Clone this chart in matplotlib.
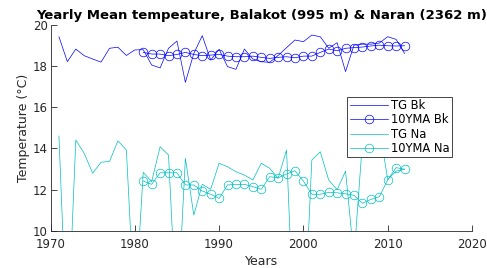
import numpy as np
import matplotlib
matplotlib.use("Agg")
import matplotlib.pyplot as plt

# === Data ===
years = np.arange(1971, 2013)
years_ma = np.arange(1981, 2013)

tg_bk = [19.41, 18.20, 18.81, 18.49, 18.33, 18.18, 18.85, 18.90, 18.50, 18.77,
         18.78, 18.04, 17.90, 18.85, 19.20, 17.20, 18.60, 19.46, 18.28, 18.80,
         17.96, 17.83, 18.81, 18.33, 18.20, 18.17, 18.50, 18.88, 19.25, 19.17,
         19.49, 19.41, 18.85, 19.12, 17.72, 19.00, 19.05, 19.05, 19.10, 19.41,
         19.28, 18.60]

ma_bk = [18.65, 18.57, 18.57, 18.49, 18.55, 18.65, 18.55, 18.49, 18.52, 18.55,
         18.47, 18.44, 18.44, 18.47, 18.41, 18.36, 18.41, 18.44, 18.39, 18.47,
         18.47, 18.65, 18.81, 18.73, 18.85, 18.88, 18.91, 18.96, 19.00, 18.97,
         18.96, 18.97]

tg_na = [14.60, 4.50, 14.41, 13.76, 12.80, 13.33, 13.37, 14.37, 13.92, 6.00,
         12.84, 12.39, 14.08, 13.68, 5.50, 13.52, 10.77, 12.26, 12.02, 13.28,
         13.11, 12.87, 12.71, 12.47, 13.28, 13.04, 12.55, 13.92, 4.00, 4.50,
         13.44, 13.84, 12.47, 12.00, 12.90, 8.70, 14.30, 14.80, 15.00, 12.50,
         12.90, 13.00]

ma_na = [12.42, 12.26, 12.82, 12.82, 12.82, 12.23, 12.23, 11.94, 11.78, 11.58,
         12.23, 12.26, 12.26, 12.15, 12.02, 12.63, 12.58, 12.76, 12.92, 12.42,
         11.78, 11.78, 11.87, 11.85, 11.80, 11.73, 11.34, 11.53, 11.66, 12.47,
         13.07, 12.99]

x_ticks = [1970, 1980, 1990, 2000, 2010, 2020]
y_ticks = [10, 12, 14, 16, 18, 20]

# === Figure ===
axis_col = '#262626'
fig = plt.figure(figsize=(4.87, 2.68), dpi=100)
ax = fig.add_axes([0.1037, 0.138, 0.8655, 0.7705])

ax.plot(years, tg_bk, '-', color='b', lw=0.5, label='TG Bk')
ax.plot(years_ma, ma_bk, '-o', color='b', lw=0.5, ms=6.2, mfc='none', mew=0.5,
        label='10YMA Bk')
ax.plot(years, tg_na, '-', color='c', lw=0.5, label='TG Na')
ax.plot(years_ma, ma_na, '-o', color='c', lw=0.5, ms=6.2, mfc='none', mew=0.5,
        label='10YMA Na')

ax.set_xlim(1970, 2020)
ax.set_ylim(10, 20)
ax.set_xticks(x_ticks)
ax.set_yticks(y_ticks)

for side in ['top', 'right']:
    ax.spines[side].set_visible(False)
for side in ['left', 'bottom']:
    ax.spines[side].set_color(axis_col)
    ax.spines[side].set_linewidth(0.6)
ax.tick_params(direction='in', length=4, width=0.6, colors=axis_col,
               labelsize=8.5)
ax.tick_params(axis='x', pad=5)
ax.tick_params(axis='y', pad=2)

ax.set_title('Yearly Mean tempeature, Balakot (995 m) & Naran (2362 m)',
             fontsize=9.5, fontweight='bold', pad=4)
ax.set_xlabel('Years', fontsize=9, color=axis_col, labelpad=3)
ax.set_ylabel('Temperature (°C)', fontsize=9, color=axis_col, labelpad=2)

leg = ax.legend(loc='upper right', bbox_to_anchor=(0.9526, 0.649),
                fontsize=8.3, fancybox=False, framealpha=1, handlelength=3.3,
                borderpad=0.2, labelspacing=0.1, handletextpad=0.3,
                borderaxespad=0)
leg.get_frame().set_edgecolor(axis_col)
leg.get_frame().set_linewidth(0.6)

fig.savefig('out.png', dpi=100)
